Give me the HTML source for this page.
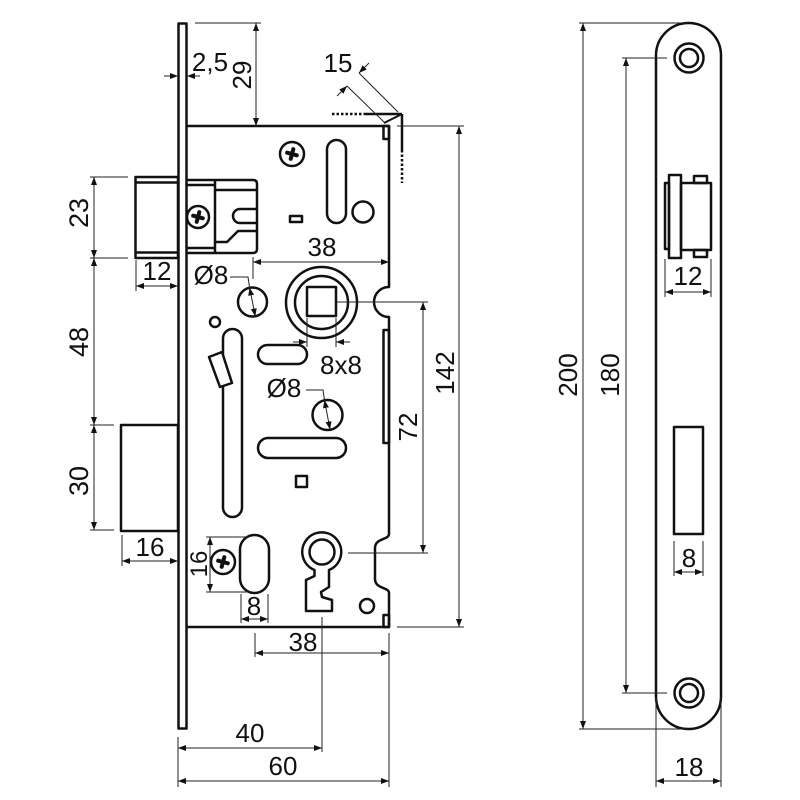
<!DOCTYPE html>
<html><head><meta charset="utf-8"><style>
html,body{margin:0;padding:0;background:#fff;}
svg{display:block;}
text{font-family:"Liberation Sans",Arial,sans-serif;font-size:26px;fill:#111;text-anchor:middle;}
.o{fill:none;stroke:#111;stroke-width:2.5;stroke-linejoin:round;}
.w{fill:#fff;stroke:#111;stroke-width:2.5;stroke-linejoin:round;}
.d{fill:none;stroke:#222;stroke-width:1;}
.a{fill:none;stroke:#222;stroke-width:1;marker-start:url(#ar);marker-end:url(#ar);}
.e{fill:none;stroke:#222;stroke-width:1;marker-end:url(#ar);}
</style></head><body>
<svg width="800" height="800" viewBox="0 0 800 800" xmlns="http://www.w3.org/2000/svg">
<defs>
<marker id="ar" markerUnits="userSpaceOnUse" markerWidth="8" markerHeight="6" refX="8" refY="3" orient="auto-start-reverse">
<path d="M0,0 L8,3 L0,6 z" fill="#111"/>
</marker>
<g id="scr">
<path d="M-5,0 L5,0 M0,-5 L0,5" stroke="#111" stroke-width="4" stroke-linecap="round" transform="rotate(15)"/>
</g>
</defs>

<!-- ===== LOCK BODY ===== -->
<rect class="o" x="178.5" y="23.5" width="8" height="705"/>
<path class="o" d="M187,126 L389,126 L389,287 A15,15 0 0 0 389,317 L389,534 C389,540 375,538 375,548 L375,579 C375,589 389,587 389,593 L389,627 L187,627"/>
<rect class="o" x="383.5" y="330" width="5.5" height="113"/>
<rect class="o" x="383.5" y="126" width="5.5" height="13"/>
<rect class="o" x="383.5" y="615" width="5.5" height="12"/>
<line x1="384" y1="123" x2="402" y2="114" stroke="#111" stroke-width="2"/>
<line x1="365" y1="114" x2="402" y2="114" stroke="#111" stroke-width="2.5"/>
<line x1="332" y1="114" x2="365" y2="114" stroke="#111" stroke-width="2.5" stroke-dasharray="2.5,2"/>
<line x1="402" y1="114" x2="402" y2="150" stroke="#111" stroke-width="2.5"/>
<line x1="402" y1="150" x2="402" y2="183" stroke="#111" stroke-width="2.5" stroke-dasharray="2.5,2"/>

<rect class="o" x="135.5" y="177" width="42.5" height="81"/>
<line class="o" x1="135.5" y1="182.5" x2="178" y2="182.5"/>
<line class="o" x1="135.5" y1="252.5" x2="178" y2="252.5"/>
<path class="o" d="M187,180 L253,180 Q257,180 257,184 L257,249 Q257,253 253,253 L187,253"/>
<line class="o" x1="215" y1="180" x2="215" y2="253"/>
<line class="o" x1="187" y1="185" x2="215" y2="185"/>
<line class="o" x1="187" y1="248" x2="215" y2="248"/>
<line class="o" x1="215" y1="190" x2="257" y2="190"/>
<path class="o" d="M257,209 L240,209 A7,7 0 0 0 240,223 L257,223"/>
<path class="o" d="M215,242 L227,242 L238,231 L257,231"/>

<rect class="o" x="121" y="425" width="57" height="106"/>

<circle class="w" cx="292" cy="154" r="12"/><use href="#scr" x="292" y="154"/>
<circle class="w" cx="198" cy="217" r="11"/><use href="#scr" x="198" y="217"/>
<circle class="w" cx="223" cy="562" r="12"/><use href="#scr" x="223" y="562"/>

<rect class="o" x="327" y="140" width="19" height="83" rx="9.5"/>
<circle class="o" cx="363" cy="212" r="10.5"/>
<rect class="o" x="290" y="216" width="12" height="6"/>
<circle class="o" cx="252.5" cy="302" r="14.5"/>
<circle class="o" cx="321.5" cy="302.5" r="35.5"/>
<circle class="o" cx="321.5" cy="302.5" r="26.5"/>
<rect class="o" x="307" y="287" width="29" height="29"/>
<circle class="o" cx="215" cy="322" r="5"/>
<rect class="o" x="223" y="329" width="19" height="188" rx="9.5"/>
<polygon class="w" points="209,357 222,352 232,383 220,387"/>
<rect class="o" x="258" y="345" width="49" height="19" rx="9.5"/>
<circle class="o" cx="327.5" cy="415" r="15"/>
<rect class="o" x="258" y="438" width="88" height="20" rx="10"/>
<rect class="o" x="296" y="476" width="11" height="11"/>
<rect class="o" x="240" y="535" width="29" height="58" rx="14.5"/>
<path class="o" d="M314.5,570 L314.5,576 L306,580 L306,611 L332,611 L332,600 L322,597 L321,592 L329,587 L329,570 A19.5,19.5 0 1 0 314.5,570 Z"/>
<circle class="o" cx="322" cy="552" r="12.5"/>
<circle class="o" cx="367" cy="606" r="7"/>

<!-- ===== DIMENSIONS (lock) ===== -->
<line class="e" x1="164" y1="76" x2="178" y2="76"/>
<line class="e" x1="200" y1="76" x2="187" y2="76"/>
<text x="210" y="71">2,5</text>
<line class="d" x1="195" y1="23" x2="261" y2="23"/>
<line class="a" x1="256" y1="23" x2="256" y2="126"/>
<text transform="translate(251,75) rotate(-90)">29</text>
<line class="d" x1="347" y1="86" x2="384" y2="122"/>
<line class="d" x1="359" y1="73" x2="398" y2="112"/>
<line class="e" x1="337" y1="96" x2="347" y2="86"/>
<line class="e" x1="369" y1="63" x2="359" y2="73"/>
<text x="338" y="72">15</text>
<line class="d" x1="90" y1="177" x2="128" y2="177"/>
<line class="d" x1="90" y1="258" x2="128" y2="258"/>
<line class="d" x1="90" y1="425" x2="114" y2="425"/>
<line class="d" x1="90" y1="530" x2="114" y2="530"/>
<line class="a" x1="94" y1="177" x2="94" y2="258"/>
<line class="a" x1="94" y1="258" x2="94" y2="425"/>
<line class="a" x1="94" y1="425" x2="94" y2="530"/>
<text transform="translate(88,213) rotate(-90)" style="font-size:27px">23</text>
<text transform="translate(88,342) rotate(-90)" style="font-size:27px">48</text>
<text transform="translate(88,481) rotate(-90)" style="font-size:27px">30</text>
<line class="d" x1="136" y1="260" x2="136" y2="291"/>
<line class="a" x1="136" y1="286" x2="178" y2="286"/>
<text x="157" y="280">12</text>
<line class="d" x1="253" y1="257" x2="253" y2="279"/>
<line class="a" x1="253" y1="262" x2="389" y2="262"/>
<text x="322" y="256">38</text>
<polyline class="d" points="230,277 248,277 249.6,287.5"/>
<line class="a" x1="249.6" y1="287.5" x2="255.3" y2="316.5"/>
<text x="211" y="284">Ø8</text>
<line class="d" x1="307" y1="318" x2="307" y2="347"/>
<line class="d" x1="336" y1="318" x2="336" y2="347"/>
<line class="e" x1="293" y1="342" x2="307" y2="342"/>
<line class="e" x1="350" y1="342" x2="336" y2="342"/>
<text x="341" y="374">8x8</text>
<polyline class="d" points="306,390 323,390 324.5,400"/>
<line class="a" x1="324.5" y1="400" x2="330" y2="429.5"/>
<text x="284" y="397">Ø8</text>
<line class="d" x1="337" y1="302" x2="428" y2="302"/>
<line class="d" x1="348" y1="553" x2="428" y2="553"/>
<line class="a" x1="423" y1="302" x2="423" y2="553"/>
<text transform="translate(417,427) rotate(-90)">72</text>
<line class="d" x1="397" y1="126" x2="464" y2="126"/>
<line class="d" x1="397" y1="627" x2="464" y2="627"/>
<line class="a" x1="459" y1="126" x2="459" y2="627"/>
<text transform="translate(454,373) rotate(-90)">142</text>
<line class="d" x1="122" y1="535" x2="122" y2="566"/>
<line class="a" x1="122" y1="561" x2="178" y2="561"/>
<text x="150" y="556">16</text>
<line class="d" x1="206" y1="537" x2="248" y2="537"/>
<line class="d" x1="206" y1="592" x2="248" y2="592"/>
<line class="a" x1="210" y1="537" x2="210" y2="592"/>
<text transform="translate(207,564) rotate(-90)" style="font-size:24px">16</text>
<line class="d" x1="241" y1="594" x2="241" y2="623"/>
<line class="d" x1="268" y1="594" x2="268" y2="623"/>
<line class="a" x1="241" y1="619" x2="268" y2="619"/>
<text x="254" y="615">8</text>
<line class="d" x1="255" y1="633" x2="255" y2="657"/>
<line class="d" x1="389" y1="633" x2="389" y2="787"/>
<line class="a" x1="255" y1="653" x2="389" y2="653"/>
<text x="303" y="651">38</text>
<line class="d" x1="322" y1="617" x2="322" y2="752"/>
<line class="d" x1="178" y1="737" x2="178" y2="787"/>
<line class="a" x1="178" y1="748" x2="322" y2="748"/>
<text x="250" y="742">40</text>
<line class="a" x1="178" y1="781" x2="389" y2="781"/>
<text x="283" y="775">60</text>

<!-- ===== STRIKE PLATE ===== -->
<path class="o" d="M656,55.5 A32.5,32.5 0 0 1 721,55.5 L721,696.5 A32.5,32.5 0 0 1 656,696.5 Z"/>
<circle class="o" cx="689" cy="58" r="14.5"/>
<circle class="o" cx="689" cy="58" r="9"/>
<circle class="o" cx="689" cy="693" r="14.5"/>
<circle class="o" cx="689" cy="693" r="9"/>
<rect class="o" x="665" y="183" width="4" height="66"/>
<rect class="o" x="669" y="175" width="12" height="83"/>
<rect class="o" x="681" y="183" width="30" height="67"/>
<rect class="o" x="694" y="176" width="13" height="7"/>
<rect class="o" x="694" y="250" width="13" height="7"/>
<rect class="o" x="674" y="427" width="29" height="107"/>

<line class="d" x1="579" y1="23" x2="688" y2="23"/>
<line class="d" x1="579" y1="729" x2="688" y2="729"/>
<line class="a" x1="583" y1="23" x2="583" y2="729"/>
<text transform="translate(577,375) rotate(-90)">200</text>
<line class="d" x1="622" y1="58" x2="667" y2="58"/>
<line class="d" x1="622" y1="693" x2="667" y2="693"/>
<line class="a" x1="626" y1="58" x2="626" y2="693"/>
<text transform="translate(619,375) rotate(-90)">180</text>
<line class="d" x1="665" y1="259" x2="665" y2="297"/>
<line class="d" x1="711" y1="259" x2="711" y2="297"/>
<line class="a" x1="665" y1="292" x2="711" y2="292"/>
<text x="688" y="285">12</text>
<line class="d" x1="674" y1="541" x2="674" y2="576"/>
<line class="d" x1="703" y1="541" x2="703" y2="576"/>
<line class="a" x1="674" y1="572" x2="703" y2="572"/>
<text x="689" y="567">8</text>
<line class="d" x1="656" y1="697" x2="656" y2="787"/>
<line class="d" x1="721" y1="697" x2="721" y2="787"/>
<line class="a" x1="656" y1="781" x2="721" y2="781"/>
<text x="689" y="776">18</text>
</svg>
</body></html>
